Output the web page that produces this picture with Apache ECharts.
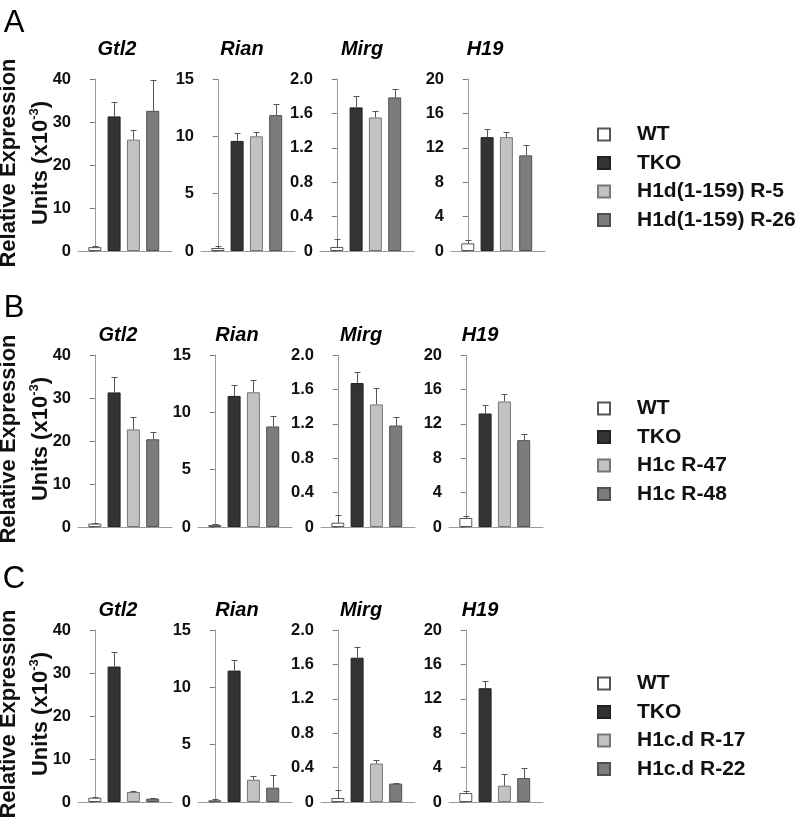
<!DOCTYPE html>
<html><head><meta charset="utf-8">
<script src="https://cdn.jsdelivr.net/npm/echarts@6/dist/echarts.min.js"></script>
<style>html,body{margin:0;padding:0;background:#fff}#c{width:799px;height:822px}</style>
</head><body><div id="c"></div>
<script>
// ---------- DATA ----------
const panelLetters = ['A', 'B', 'C'];
const genes = ['Gtl2', 'Rian', 'Mirg', 'H19'];
const groupsA = ['WT', 'TKO', 'H1d(1-159) R-5', 'H1d(1-159) R-26'];
const groupsB = ['WT', 'TKO', 'H1c R-47', 'H1c R-48'];
const groupsC = ['WT', 'TKO', 'H1c.d R-17', 'H1c.d R-22'];

// tick labels per gene
const gtl2Ticks = ['0', '10', '20', '30', '40'];
const rianTicks = ['0', '5', '10', '15'];
const mirgTicks = ['0', '0.4', '0.8', '1.2', '1.6', '2.0'];
const h19Ticks = ['0', '4', '8', '12', '16', '20'];

// values in order [WT, TKO, group3, group4]; errors are upper error bars
const aGtl2 = [0.9, 31.3, 25.9, 32.6];     const aGtl2Err = [0.3, 3.3, 2.3, 7.1];
const aRian = [0.26, 9.6, 10.0, 11.85];    const aRianErr = [0.2, 0.65, 0.4, 1.0];
const aMirg = [0.047, 1.67, 1.553, 1.786]; const aMirgErr = [0.09, 0.13, 0.08, 0.097];
const aH19 = [0.89, 13.24, 13.24, 11.12];  const aH19Err = [0.38, 0.89, 0.62, 1.2];

const bGtl2 = [0.78, 31.3, 22.7, 20.4];    const bGtl2Err = [0.22, 3.5, 2.8, 1.7];
const bRian = [0.18, 11.43, 11.75, 8.77];  const bRianErr = [0.11, 0.97, 1.09, 0.91];
const bMirg = [0.05, 1.674, 1.425, 1.18];  const bMirgErr = [0.086, 0.132, 0.187, 0.094];
const bH19 = [1.05, 13.2, 14.6, 10.1];     const bH19Err = [0.2, 0.94, 0.9, 0.68];

const cGtl2 = [1.0, 31.5, 2.33, 0.78];     const cGtl2Err = [0.17, 3.45, 0.23, 0.07];
const cRian = [0.15, 11.46, 1.94, 1.25];   const cRianErr = [0.08, 0.96, 0.35, 1.13];
const cMirg = [0.047, 1.678, 0.447, 0.214]; const cMirgErr = [0.089, 0.122, 0.038, 0.011];
const cH19 = [1.04, 13.23, 1.9, 2.79];     const cH19Err = [0.28, 0.89, 1.35, 1.16];

// ---------- ASSEMBLY ----------
const groups = [groupsA, groupsB, groupsC];
const tickSets = [gtl2Ticks, rianTicks, mirgTicks, h19Ticks];
const values = [[aGtl2, aRian, aMirg, aH19], [bGtl2, bRian, bMirg, bH19], [cGtl2, cRian, cMirg, cH19]];
const errors = [[aGtl2Err, aRianErr, aMirgErr, aH19Err], [bGtl2Err, bRianErr, bMirgErr, bH19Err], [cGtl2Err, cRianErr, cMirgErr, cH19Err]];

// layout / style
const FONT = "'Liberation Sans', Arial, sans-serif";
const gridLeft = [[78, 201, 320, 451], [78, 198, 321, 449], [78, 198, 321, 449]];
const gridTop = [79, 355, 630];
const gridH = 172, gridW = 94;
const titleX = [[117, 242, 362, 485], [118, 237, 361, 480], [118, 237, 361, 480]];
const titleY = [49, 335, 610];
const letterY = [23, 308, 579];
const legendTop = [119, 393, 668];
const fills = ['#ffffff', '#333333', '#c2c2c2', '#7c7c7c'];
const borders = ['#555555', '#222222', '#777777', '#505050'];
const axisColor = '#9a9a9a';

const grid = [], xAxis = [], yAxis = [], series = [], graphic = [], legend = [];

for (let p = 0; p < 3; p++) {
  for (let g = 0; g < 4; g++) {
    const idx = p * 4 + g;
    const ticks = tickSets[g];
    const interval = parseFloat(ticks[1]);
    const maxV = parseFloat(ticks[ticks.length - 1]);
    grid.push({ left: gridLeft[p][g], top: gridTop[p], width: gridW, height: gridH });
    xAxis.push({
      type: 'value', gridIndex: idx, min: -0.87, max: 4.0,
      axisLine: { show: true, onZero: false, lineStyle: { color: axisColor, width: 1 } },
      axisTick: { show: false }, axisLabel: { show: false }, splitLine: { show: false }
    });
    yAxis.push({
      type: 'value', gridIndex: idx, min: 0, max: maxV, interval: interval,
      axisLine: { show: true, lineStyle: { color: axisColor, width: 1 } },
      axisTick: { show: true, length: 5, lineStyle: { color: '#777' } },
      splitLine: { show: false },
      axisLabel: {
        margin: 7, fontSize: 16.5, fontWeight: 'bold', color: '#111', fontFamily: FONT,
        formatter: (v) => ticks[Math.round(v / interval)]
      }
    });
    const vals = values[p][g], errs = errors[p][g];
    for (let k = 0; k < 4; k++) {
      series.push({
        type: 'bar', name: groups[p][k], xAxisIndex: idx, yAxisIndex: idx,
        data: [[k, vals[k]]], barWidth: 13, barGap: '-100%',
        itemStyle: { color: fills[k], borderColor: borders[k], borderWidth: 1 },
        silent: true, animation: false
      });
    }
    series.push({
      type: 'custom', name: 'err' + idx, xAxisIndex: idx, yAxisIndex: idx,
      data: vals.map((v, k) => [k, v, v + errs[k]]),
      encode: { x: 0, y: [1, 2] }, z: 5, silent: true, animation: false,
      renderItem: function (params, api) {
        const x = api.value(0);
        const p0 = api.coord([x, api.value(1)]);
        const p1 = api.coord([x, api.value(2)]);
        const cx = Math.round(p0[0]) + 0.5;
        const ty = Math.round(p1[1]) + 0.5;
        return {
          type: 'group', children: [
            { type: 'line', shape: { x1: cx, y1: p0[1], x2: cx, y2: ty }, style: { stroke: '#555', lineWidth: 1 } },
            { type: 'line', shape: { x1: cx - 3, y1: ty, x2: cx + 3, y2: ty }, style: { stroke: '#555', lineWidth: 1 } }
          ]
        };
      }
    });
    graphic.push({
      type: 'text', x: titleX[p][g], y: titleY[p], silent: true,
      style: { text: genes[g], font: "italic bold 20px " + FONT, fill: '#000', align: 'center', verticalAlign: 'middle' }
    });
  }
  const cy = gridTop[p] + gridH / 2 - 2;
  graphic.push({
    type: 'text', x: 14, y: letterY[p], silent: true,
    style: { text: panelLetters[p], font: "31px " + FONT, fill: '#000', align: 'center', verticalAlign: 'middle' }
  });
  graphic.push({
    type: 'text', x: 9, y: cy, rotation: Math.PI / 2, silent: true,
    style: { text: 'Relative Expression', font: "bold 22px " + FONT, fill: '#111', align: 'center', verticalAlign: 'middle' }
  });
  graphic.push({
    type: 'text', x: 41, y: cy, rotation: Math.PI / 2, silent: true,
    style: {
      text: 'Units (x10{sup|-3})', font: "bold 22px " + FONT, fill: '#111', lineHeight: 26,
      align: 'center', verticalAlign: 'middle',
      rich: { sup: { fontSize: 13, fontWeight: 'bold', fontFamily: FONT, fill: '#111', verticalAlign: 'top', lineHeight: 26 } }
    }
  });
  legend.push({
    data: groups[p], orient: 'vertical', left: 592, top: legendTop[p],
    itemWidth: 12, itemHeight: 12, itemGap: 7.5, icon: 'rect', selectedMode: false,
    textStyle: { fontSize: 21, fontWeight: 'bold', color: '#111', fontFamily: FONT, lineHeight: 20, padding: [0, 0, 0, 22] }
  });
}

const chart = echarts.init(document.getElementById('c'), null, { renderer: 'canvas' });
chart.setOption({
  backgroundColor: '#ffffff', animation: false,
  grid, xAxis, yAxis, series, graphic, legend
});
</script>
</body></html>
